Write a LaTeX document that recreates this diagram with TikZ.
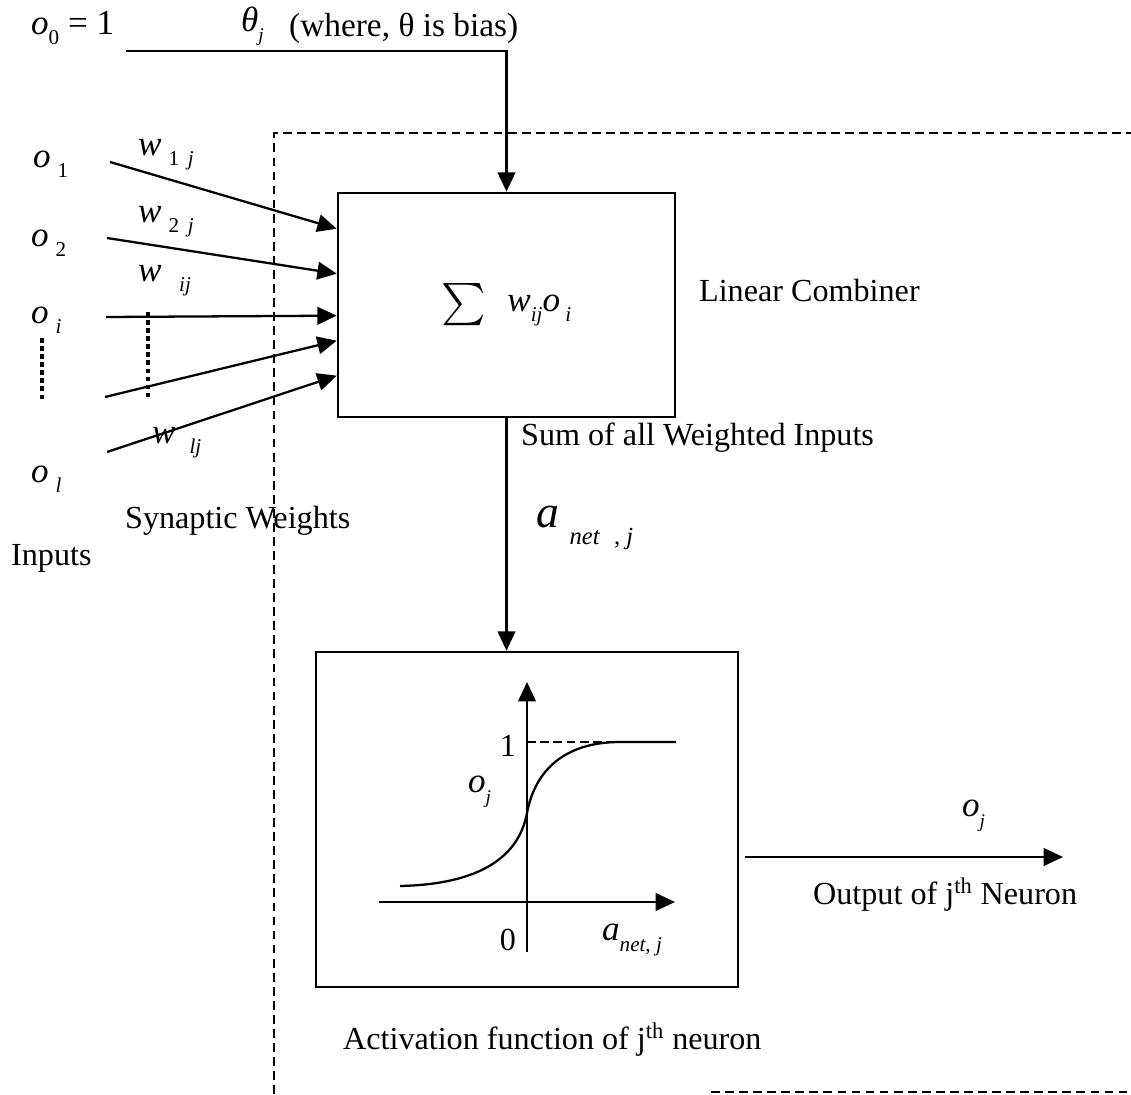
\documentclass[tikz,border=0pt]{standalone}
\usepackage{fontspec}
\usepackage{graphicx}
\setmainfont{Liberation Serif}
\usetikzlibrary{arrows.meta,positioning}

\newcommand{\sv}[2]{\textit{#1}\hspace{4pt}\raisebox{-0.6ex}{\fontsize{12}{12}\selectfont #2}}

\tikzset{
  lbl/.style={inner sep=0pt, anchor=west, font=\fontsize{18.3}{21}\selectfont},
  sym/.style={inner sep=0pt, anchor=west, font=\fontsize{20}{22}\selectfont},
  unit/.style={draw, line width=1.5pt, inner sep=0pt},
  frame/.style={line width=0.9pt, dash pattern=on 5pt off 3pt}
}

\begin{document}
\begin{tikzpicture}[x=0.02cm, y=-0.02cm, line width=1.3pt, >={Triangle[length=11pt,width=10pt]}]
  \useasboundingbox (0,0) rectangle (1131,1094);
  % neuron border
  \draw[frame] (274,1094) -- (274,133) -- (1131,133);
  \draw[frame] (711,1092) -- (1131,1092);

  % the two units
  \node[unit, minimum width=6.74cm, minimum height=4.48cm, font=\fontsize{20}{22}\selectfont]
    (sum) at (506.5,305) {\raisebox{-0.9ex}{\scalebox{2.4}{$\sum$}}\hspace{12pt}\textit{w}\raisebox{-0.6ex}{\fontsize{12}{12}\selectfont\textit{ij}}\textit{o}\hspace{3pt}\raisebox{-0.6ex}{\fontsize{12}{12}\selectfont\textit{i}}};
  \node[unit, minimum width=8.44cm, minimum height=6.7cm] (act) at (527,819.5) {};

  % bias
  \node[sym] (o0) at (30,28) {\textit{o}\raisebox{-0.6ex}{\fontsize{12}{12}\selectfont 0} = 1};
  \node[sym] (theta) at (240,26) {\textit{θ}\raisebox{-0.6ex}{\fontsize{11}{11}\selectfont\textit{j}}};
  \node[lbl, font=\fontsize{19}{22}\selectfont] (where) at (288,28) {(where, θ is bias)};
  \coordinate (b0) at (126,51);
  \draw[->] (b0) -| (sum.north);

  % inputs
  \node[sym] (o1) at (32,164) {\sv{o}{1}};
  \node[sym] (o2) at (30,243) {\sv{o}{2}};
  \node[sym] (oi) at (30,320) {\sv{o}{\textit{i}}};
  \node[sym] (ol) at (30,479) {\sv{o}{\textit{l}}};
  \node[sym] (w1) at (137,155) {\sv{w}{1\hspace{5pt}\textit{j}}};
  \node[sym] (w2) at (137,222) {\sv{w}{2\hspace{5pt}\textit{j}}};
  \node[sym] (wi) at (137,281) {\sv{w}{\hspace{6pt}\textit{ij}}};
  \node[sym] (wl) at (151,443) {\sv{w}{\hspace{4pt}\textit{lj}}};
  \draw[line width=2.6pt, dotted] (42,338) -- (42,402);
  \draw[line width=2.6pt, dotted] (148,312) -- (148,397);
  \coordinate (s1) at (110,162);
  \coordinate (s2) at (107,238);
  \coordinate (s3) at (106,317);
  \coordinate (s4) at (105,397);
  \coordinate (s5) at (107,452);
  \path[->]
    (s1) edge ([yshift=-0.74cm]sum.north west)
    (s2) edge ([yshift=-1.64cm]sum.north west)
    (s3) edge ([yshift=-2.48cm]sum.north west)
    (s4) edge ([yshift=-2.98cm]sum.north west)
    (s5) edge ([yshift=-3.68cm]sum.north west);
  \node[lbl] (syn) at (124,521) {Synaptic Weights};
  \node[lbl] (inp) at (10,558) {Inputs};

  % combiner
  \node[lbl] (lin) at (698,291) {Linear Combiner};
  \node[lbl] (wsum) at (520,438) {Sum of all Weighted Inputs};
  \node[inner sep=0pt, anchor=west] (anet) at (535,528)
    {\fontsize{26}{26}\selectfont\textit{a}\hspace{6pt}\raisebox{-0.8ex}{\fontsize{14}{14}\selectfont\textit{net}\hspace{8pt}, \textit{j}}};
  \draw[->] (sum.south) -- (sum.south |- act.north);

  % sigmoid
  \draw[->] (379,902) -- (675,902);
  \draw[->] (527,952) -- (527,682);
  \draw[line width=1pt, dash pattern=on 5pt off 2.5pt] (527,742) -- (612,742);
  \draw (400,886) .. controls (490,884) and (520,850) .. (527,813)
        .. controls (535,770) and (565,742) .. (620,742) -- (676,742);
  \node[lbl, anchor=center] (one) at (508,746) {1};
  \node[lbl, anchor=center] (zero) at (508,940) {0};
  \node[sym] (oj) at (467,792) {\textit{o}\raisebox{-0.7ex}{\fontsize{11}{11}\selectfont\textit{j}}};
  \node[sym] (ax) at (601,940) {\textit{a}\raisebox{-0.7ex}{\fontsize{12}{12}\selectfont\textit{net}, \textit{j}}};
  \node[lbl] (actlbl) at (342,1040) {Activation function of j\textsuperscript{th} neuron};

  % output
  \coordinate (out) at (1063,857);
  \draw[->] ([xshift=0.12cm]act.east |- out) -- (out);
  \node[sym] (ojout) at (961,816) {\textit{o}\raisebox{-0.7ex}{\fontsize{11}{11}\selectfont\textit{j}}};
  \node[lbl] (outlbl) at (812,895) {Output of j\textsuperscript{th} Neuron};
\end{tikzpicture}
\end{document}
